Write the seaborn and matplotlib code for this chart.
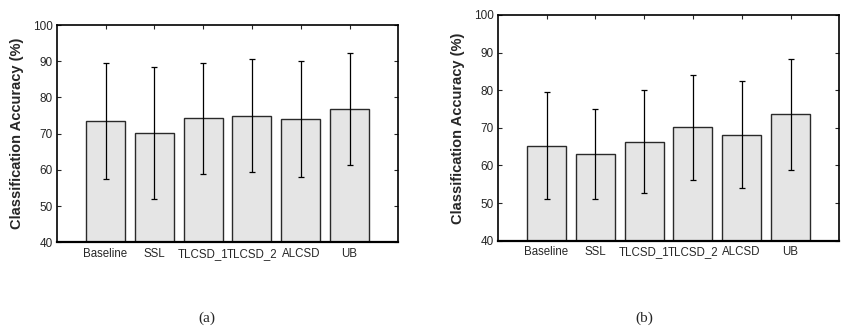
import numpy as np
import pandas as pd
import matplotlib
matplotlib.use("Agg")
import matplotlib.pyplot as plt
import seaborn as sns

methods = ["Baseline", "SSL", "TLCSD_1", "TLCSD_2", "ALCSD", "UB"]

# (a)
acc_a = [73.5, 70.1, 74.3, 75.0, 74.1, 76.8]
std_a = [15.9, 18.2, 15.3, 15.5, 16.0, 15.5]
# (b)
acc_b = [65.3, 63.1, 66.3, 70.1, 68.2, 73.6]
std_b = [14.1, 12.0, 13.7, 14.0, 14.3, 14.7]

sns.set_style("white")
plt.rcParams["font.family"] = ["Liberation Sans", "DejaVu Sans"]

fig = plt.figure(figsize=(8.52, 3.26), dpi=100)
ax_a = fig.add_axes([0.0666, 0.2567, 0.4009, 0.6666])
ax_b = fig.add_axes([0.5842, 0.2617, 0.4009, 0.6923])


def draw_panel(ax, acc, std, caption, cap_x):
    df = pd.DataFrame({"method": methods, "acc": acc})
    sns.barplot(data=df, x="method", y="acc", ax=ax, color="#e5e5e5",
                saturation=1, width=0.8, edgecolor="#2a2a2a", linewidth=1.0,
                errorbar=None, zorder=2)
    xs = np.arange(len(methods))
    ax.errorbar(xs, acc, yerr=std, fmt="none", ecolor="black",
                elinewidth=0.9, capsize=2.2, capthick=0.9, zorder=3)
    ax.set_xlim(-1, len(methods))
    ax.set_ylim(40, 100)
    ax.set_yticks(range(40, 101, 10))
    ax.set_xlabel("")
    ax.set_ylabel("Classification Accuracy (%)", fontsize=10.5,
                  fontweight="bold", labelpad=6)
    ax.tick_params(axis="x", which="both", bottom=False, top=True,
                   direction="in", length=3, labelsize=8.3, pad=4)
    ax.tick_params(axis="y", which="both", left=True, right=True,
                   direction="in", length=3, labelsize=8.5, pad=3)
    for side in ["left", "right", "top", "bottom"]:
        ax.spines[side].set_visible(True)
        ax.spines[side].set_color("black")
    ax.spines["bottom"].set_linewidth(1.6)
    ax.spines["top"].set_linewidth(1.2)
    ax.spines["left"].set_linewidth(1.2)
    ax.spines["right"].set_linewidth(1.2)
    fig.text(cap_x, 0.0245, caption, ha="center", va="center",
             fontsize=11, family=["Liberation Serif", "DejaVu Serif"])


draw_panel(ax_a, acc_a, std_a, "(a)", 0.243)
draw_panel(ax_b, acc_b, std_b, "(b)", 0.756)

fig.savefig("out.png", dpi=100)
